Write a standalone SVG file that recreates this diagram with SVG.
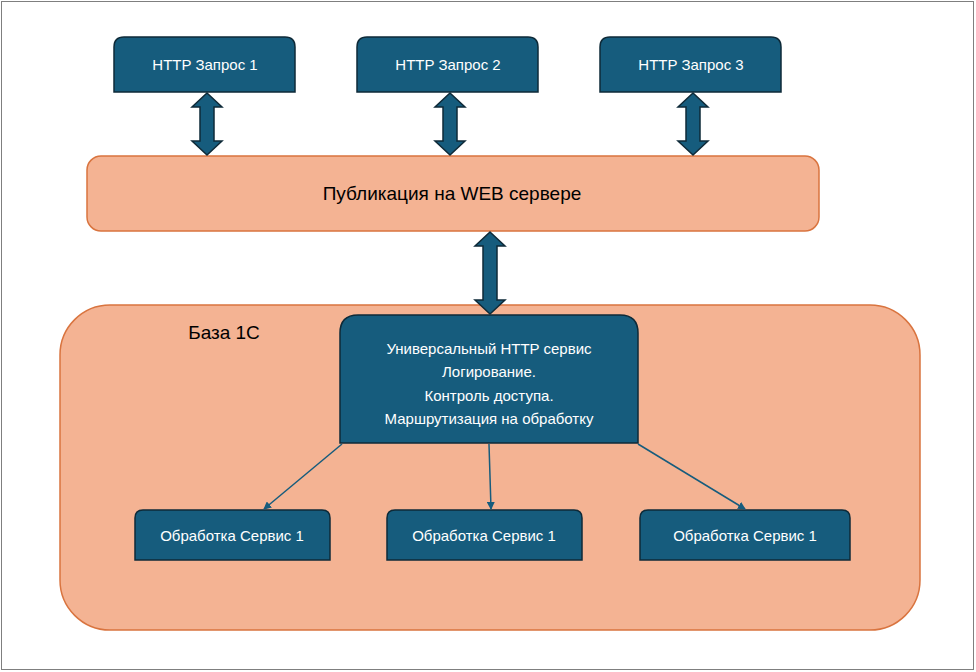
<svg xmlns="http://www.w3.org/2000/svg" width="976" height="672" viewBox="0 0 976 672">
<defs>
<style>
.n{fill:#165C7D;stroke:#0E2A38;stroke-width:1.5}
.t{font-family:"Liberation Sans",Arial,sans-serif;font-size:15px;fill:#fff;text-anchor:middle}
.o{fill:#F4B393;stroke:#D9743F;stroke-width:1.5}
.da{fill:#165C7D;stroke:#0E2A38;stroke-width:1.5}
.c{stroke:#165C7D;stroke-width:1.5;fill:none;marker-end:url(#a)}
</style>
<marker id="a" markerWidth="8" markerHeight="8" refX="7" refY="4" orient="auto" markerUnits="userSpaceOnUse"><path d="M0,0 L8,4 L0,8 Z" fill="#165C7D"/></marker>
</defs>
<rect x="0" y="0" width="976" height="672" fill="#fff"/>
<rect x="1.5" y="1.5" width="972" height="668" fill="none" stroke="#7f7f7f" stroke-width="1"/>
<g id="base"><rect class="o" x="60" y="305" width="860" height="325" rx="50"/>
<text x="224" y="339" font-family="'Liberation Sans',Arial,sans-serif" font-size="19" fill="#000" text-anchor="middle">База 1С</text></g>
<g id="web"><rect class="o" x="87" y="156" width="732" height="75" rx="14"/>
<text x="452" y="200" font-family="'Liberation Sans',Arial,sans-serif" font-size="19" fill="#000" text-anchor="middle">Публикация на WEB сервере</text></g>
<g id="req1"><path class="n" d="M114,92 V47 Q114,37 124,37 H285 Q295,37 295,47 V92 Z"/><text class="t" x="205" y="70">HTTP Запрос 1</text></g>
<g id="req2"><path class="n" d="M357,92 V47 Q357,37 367,37 H528 Q538,37 538,47 V92 Z"/><text class="t" x="448" y="70">HTTP Запрос 2</text></g>
<g id="req3"><path class="n" d="M600,92 V47 Q600,37 610,37 H771 Q781,37 781,47 V92 Z"/><text class="t" x="691" y="70">HTTP Запрос 3</text></g>
<g id="uni"><path class="n" d="M340,443 V333 Q340,315 358,315 H620 Q638,315 638,333 V443 Z"/>
<text class="t" x="489" y="354">Универсальный HTTP сервис</text>
<text class="t" x="489" y="377">Логирование.</text>
<text class="t" x="489" y="401">Контроль доступа.</text>
<text class="t" x="489" y="424">Маршрутизация на обработку</text></g>
<g id="s1"><path class="n" d="M135,560 V518 Q135,510 143,510 H322 Q330,510 330,518 V560 Z"/><text class="t" x="232" y="541">Обработка Сервис 1</text></g>
<g id="s2"><path class="n" d="M387,560 V518 Q387,510 395,510 H574 Q582,510 582,518 V560 Z"/><text class="t" x="484" y="541">Обработка Сервис 1</text></g>
<g id="s3"><path class="n" d="M640,560 V518 Q640,510 648,510 H842 Q850,510 850,518 V560 Z"/><text class="t" x="745" y="541">Обработка Сервис 1</text></g>
<g id="connectors">
<path class="da" d="M207,93 L222,107 H214 V141 H222 L207,155 L192,141 H200 V107 H192 Z"/>
<path class="da" d="M450,93 L465,107 H457 V141 H465 L450,155 L435,141 H443 V107 H435 Z"/>
<path class="da" d="M693,93 L708,107 H700 V141 H708 L693,155 L678,141 H686 V107 H678 Z"/>
<path class="da" d="M490,232 L505,246 H497 V300 H505 L490,314 L475,300 H483 V246 H475 Z"/>
<line class="c" x1="342" y1="444" x2="264" y2="509"/>
<line class="c" x1="489" y1="444" x2="491" y2="509"/>
<line class="c" x1="638" y1="444" x2="745" y2="509"/>
</g>
</svg>
